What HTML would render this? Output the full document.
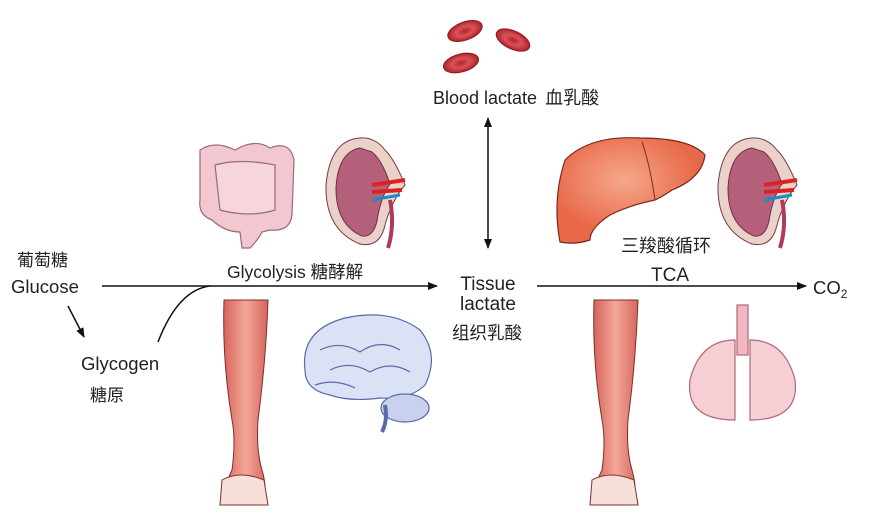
<!DOCTYPE html>
<html><head><meta charset="utf-8"><style>
html,body{margin:0;padding:0;background:#fff;}
svg{display:block;}
text{font-family:"Liberation Sans","Noto Sans CJK SC",sans-serif;fill:#222;}
</style></head><body>
<svg width="872" height="514" viewBox="0 0 872 514" xmlns="http://www.w3.org/2000/svg">
<defs>
<marker id="ah" markerWidth="10" markerHeight="8" refX="9" refY="4" orient="auto" markerUnits="userSpaceOnUse">
<path d="M0,0 L10,4 L0,8 z" fill="#111"/></marker>
<marker id="ahs" markerWidth="10" markerHeight="8" refX="1" refY="4" orient="auto" markerUnits="userSpaceOnUse">
<path d="M10,0 L0,4 L10,8 z" fill="#111"/></marker>
<radialGradient id="rbc"><stop offset="0" stop-color="#b5202a"/><stop offset="0.5" stop-color="#d9545a"/><stop offset="1" stop-color="#b02228"/></radialGradient>
<radialGradient id="liv" cx="0.45" cy="0.4"><stop offset="0" stop-color="#f6a88c"/><stop offset="1" stop-color="#e8694a"/></radialGradient>
<linearGradient id="leg" x1="0" x2="1"><stop offset="0" stop-color="#d8645a"/><stop offset="0.5" stop-color="#f2a89a"/><stop offset="1" stop-color="#d8645a"/></linearGradient>
</defs>

<ellipse cx="465" cy="31" rx="18" ry="9" transform="rotate(-20 465 31)" fill="url(#rbc)" stroke="#8a1a20"/>
<ellipse cx="513" cy="40" rx="18" ry="9" transform="rotate(25 513 40)" fill="url(#rbc)" stroke="#8a1a20"/>
<ellipse cx="461" cy="63" rx="18" ry="9" transform="rotate(-15 461 63)" fill="url(#rbc)" stroke="#8a1a20"/>

<g stroke="#9a6a78" stroke-width="1.2" fill="#f2c7cf">
<path d="M200,150 Q215,140 235,150 Q255,138 270,148 Q290,140 294,160 L292,215 Q290,232 270,230 L262,232 Q258,240 250,248 L242,248 L240,232 Q225,232 212,220 Q198,215 200,200 Z"/>
<path d="M215,165 Q240,158 275,165 L275,210 Q250,218 220,210 Z" fill="#f6d5db"/>
</g>
<g>
<path d="M360,138 Q330,140 326,185 Q325,230 360,244 Q380,248 385,225 Q392,200 405,185 Q395,160 385,150 Q375,137 360,138 Z" fill="#ead2c8" stroke="#7a3a4a"/>
<path d="M360,148 Q338,152 336,188 Q336,225 362,236 Q375,238 378,215 Q382,195 390,184 Q382,160 372,152 Z" fill="#b4607a" stroke="#7a2a4a"/>
<path d="M372,185 L405,180 M372,192 L402,190" stroke="#d22" stroke-width="4"/>
<path d="M372,200 L400,195" stroke="#1a8cc8" stroke-width="3"/>
<path d="M390,200 Q395,225 388,248" stroke="#b03a5a" stroke-width="4" fill="none"/>
</g>

<path d="M565,160 Q590,135 640,138 Q690,138 705,155 Q702,178 672,190 Q660,198 655,200 Q630,205 610,215 Q590,228 590,240 Q575,245 560,242 Q552,200 565,160 Z" fill="url(#liv)" stroke="#7a2a1a" stroke-width="1.2"/>
<path d="M642,142 Q650,165 655,200" stroke="#7a2a1a" fill="none"/>
<g>
<path d="M752,138 Q722,140 718,185 Q717,230 752,244 Q772,248 777,225 Q784,200 797,185 Q787,160 777,150 Q767,137 752,138 Z" fill="#ead2c8" stroke="#7a3a4a"/>
<path d="M752,148 Q730,152 728,188 Q728,225 754,236 Q767,238 770,215 Q774,195 782,184 Q774,160 764,152 Z" fill="#b4607a" stroke="#7a2a4a"/>
<path d="M764,185 L797,180 M764,192 L794,190" stroke="#d22" stroke-width="4"/>
<path d="M764,200 L792,195" stroke="#1a8cc8" stroke-width="3"/>
<path d="M782,200 Q787,225 780,248" stroke="#b03a5a" stroke-width="4" fill="none"/>
</g>

<g stroke="#7a3030" stroke-width="1">
<path d="M224,300 L268,300 Q266,360 258,420 Q256,450 262,470 Q268,490 262,505 L225,505 Q222,490 232,470 Q236,440 232,420 Q222,360 224,300 Z" fill="url(#leg)"/>
<path d="M594,300 L638,300 Q636,360 628,420 Q626,450 632,470 Q638,490 632,505 L595,505 Q592,490 602,470 Q606,440 602,420 Q592,360 594,300 Z" fill="url(#leg)"/>
<path d="M222,480 Q240,470 264,480 L268,505 L220,505 Z" fill="#f6e0d8"/>
<path d="M592,480 Q610,470 634,480 L638,505 L590,505 Z" fill="#f6e0d8"/>
</g>

<g stroke="#5a6aa8" stroke-width="1.2">
<path d="M305,370 Q300,330 345,318 Q390,308 420,330 Q440,355 425,385 Q410,400 380,398 Q350,402 330,395 Q305,390 305,370 Z" fill="#dbe2f6"/>
<ellipse cx="405" cy="408" rx="24" ry="14" fill="#c8d2ee"/>
<path d="M385,405 Q388,420 382,432" fill="none" stroke-width="4"/>
<path d="M320,350 Q340,340 360,352 Q380,338 400,350 M330,370 Q350,360 370,372 Q390,360 410,372 M315,385 Q335,378 355,388" fill="none"/>
</g>

<g stroke="#b06878" stroke-width="1.2" fill="#f6cfd4">
<path d="M735,340 Q700,340 690,380 Q685,420 735,420 Z"/>
<path d="M750,340 Q785,340 795,380 Q800,420 750,420 Z"/>
<rect x="737" y="305" width="11" height="50" fill="#f0b8c0"/>
</g>

<line x1="102" y1="286" x2="437" y2="286" stroke="#111" stroke-width="1.5" marker-end="url(#ah)"/>
<line x1="68" y1="306" x2="84" y2="337" stroke="#111" stroke-width="1.5" marker-end="url(#ah)"/>
<path d="M158,342 Q178,290 210,286" stroke="#111" stroke-width="1.5" fill="none"/>
<line x1="488" y1="118" x2="488" y2="248" stroke="#111" stroke-width="1.5" marker-start="url(#ahs)" marker-end="url(#ah)"/>
<line x1="537" y1="286" x2="806" y2="286" stroke="#111" stroke-width="1.5" marker-end="url(#ah)"/>

<text x="17" y="266" font-size="17">葡萄糖</text>
<text x="11" y="293" font-size="18.5">Glucose</text>
<text x="81" y="370" font-size="18.5">Glycogen</text>
<text x="90" y="401" font-size="17">糖原</text>
<text x="227" y="278" font-size="17.5">Glycolysis 糖酵解</text>
<text x="433" y="104" font-size="18">Blood lactate<tspan dx="8">血乳酸</tspan></text>
<text x="488" y="290" font-size="19" text-anchor="middle">Tissue</text>
<text x="488" y="310" font-size="19" text-anchor="middle">lactate</text>
<text x="487" y="339" font-size="17.5" text-anchor="middle">组织乳酸</text>
<text x="621" y="252" font-size="18">三羧酸循环</text>
<text x="651" y="281" font-size="19">TCA</text>
<text x="813" y="294" font-size="18.5">CO<tspan font-size="12" dy="4">2</tspan></text>
</svg>
</body></html>
